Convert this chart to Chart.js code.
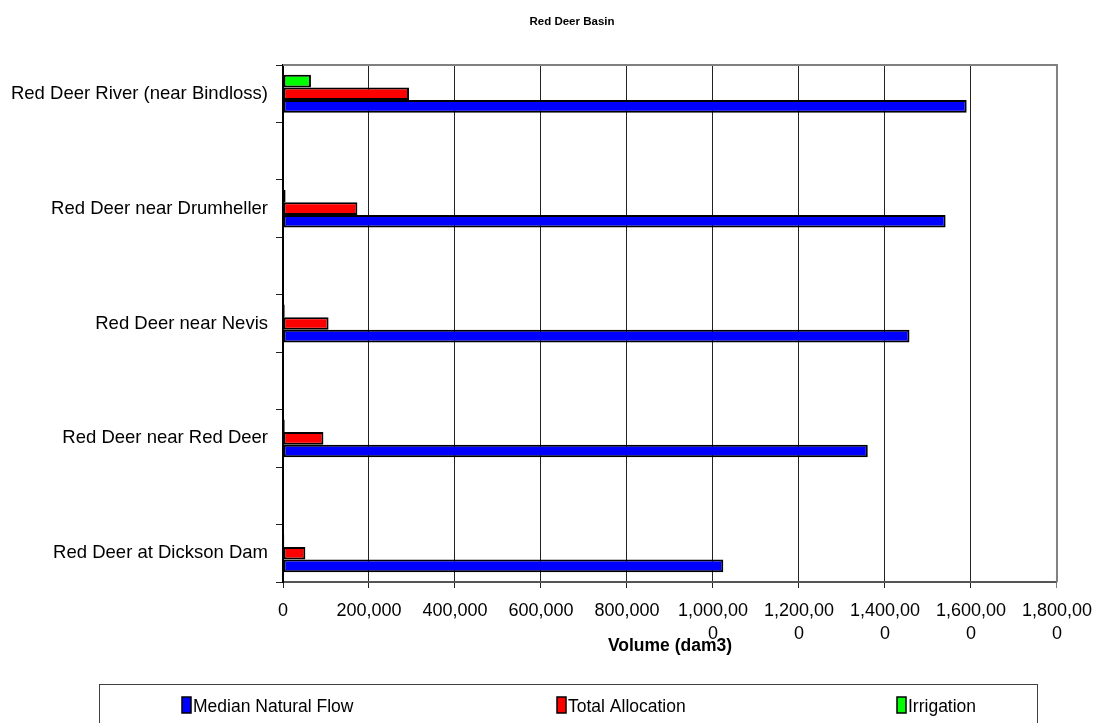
<!DOCTYPE html>
<html>
<head>
<meta charset="utf-8">
<title>Red Deer Basin</title>
<script src="https://cdn.jsdelivr.net/npm/chart.js@4/dist/chart.umd.min.js"></script>
<style>
  html, body { margin: 0; padding: 0; background: #ffffff; }
  #wrap { position: relative; width: 1103px; height: 723px; }
</style>
</head>
<body>
<div id="wrap"><canvas id="chart"></canvas></div>
<script>
// Gauging sites, listed top to bottom
const sites = [
  'Red Deer River (near Bindloss)',
  'Red Deer near Drumheller',
  'Red Deer near Nevis',
  'Red Deer near Red Deer',
  'Red Deer at Dickson Dam'
];

// Annual volumes, dam3
const medianNaturalFlow = [1590000, 1541000, 1457000, 1360000, 1024000];
const totalAllocation   = [293000, 173000, 106000, 94000, 52000];
const irrigation        = [65000, 6000, 4000, 4000, 3000];

// Value axis range
const axisMin = 0;
const axisMax = 1800000;
const axisStep = 200000;

const chartTitle = 'Red Deer Basin';

const FONT = "'Liberation Sans', Arial, Helvetica, sans-serif";
Chart.defaults.font.family = FONT;
Chart.defaults.color = '#000000';

// Each site sits in its own slot with an empty slot between sites
function spaced(arr, filler) {
  const out = [];
  arr.forEach((v, i) => { if (i) out.push(filler); out.push(v); });
  return out;
}

function withCommas(v) {
  return String(Math.round(v)).replace(/\B(?=(\d{3})+(?!\d))/g, ',');
}

// Chart heading and the top/right frame of the plot area
const plotFrame = {
  id: 'plotFrame',
  beforeDatasetsDraw(chart) {
    const { ctx, chartArea: a } = chart;
    ctx.save();
    ctx.strokeStyle = '#808080';
    ctx.lineWidth = 2;
    ctx.beginPath();
    ctx.moveTo(a.left, a.top);
    ctx.lineTo(a.right, a.top);
    ctx.lineTo(a.right, a.bottom);
    ctx.stroke();

    ctx.fillStyle = '#000000';
    ctx.font = 'bold 11.5px ' + FONT;
    ctx.textAlign = 'center';
    ctx.textBaseline = 'middle';
    ctx.fillText(chartTitle, 572, 22);
    ctx.restore();
  }
};

// Boxed legend along the bottom edge
const boxedLegend = {
  id: 'boxedLegend',
  afterDraw(chart) {
    const ctx = chart.ctx;
    ctx.save();
    ctx.strokeStyle = '#404040';
    ctx.lineWidth = 1;
    ctx.strokeRect(99.5, 684.5, 938, 60);

    const order = [2, 1, 0];           // Median Natural Flow, Total Allocation, Irrigation
    const xs = [182, 557, 897];
    ctx.font = '17.5px ' + FONT;
    ctx.textBaseline = 'middle';
    ctx.textAlign = 'left';
    order.forEach((di, k) => {
      const ds = chart.data.datasets[di];
      const x = xs[k];
      ctx.fillStyle = ds.backgroundColor;
      ctx.fillRect(x, 697, 9, 16);
      ctx.strokeStyle = '#000000';
      ctx.lineWidth = 1.5;
      ctx.strokeRect(x, 697, 9, 16);
      ctx.fillStyle = '#000000';
      ctx.fillText(ds.label, x + 11, 707);
    });
    ctx.restore();
  }
};

const barStyle = {
  borderColor: '#000000',
  borderWidth: 2,
  borderSkipped: false,
  categoryPercentage: 0.66,
  barPercentage: 1.0
};

new Chart(document.getElementById('chart'), {
  type: 'bar',
  data: {
    labels: spaced(sites, ''),
    datasets: [
      Object.assign({ label: 'Irrigation', data: spaced(irrigation, null), backgroundColor: '#00ff00' }, barStyle),
      Object.assign({ label: 'Total Allocation', data: spaced(totalAllocation, null), backgroundColor: '#ff0000' }, barStyle),
      Object.assign({ label: 'Median Natural Flow', data: spaced(medianNaturalFlow, null), backgroundColor: '#0000ff' }, barStyle)
    ]
  },
  options: {
    indexAxis: 'y',
    responsive: true,
    maintainAspectRatio: false,
    animation: false,
    layout: { padding: { left: 0, right: 45, top: 65, bottom: 66 } },
    plugins: {
      legend: { display: false },
      tooltip: { enabled: false },
      title: { display: false }
    },
    scales: {
      x: {
        type: 'linear',
        min: axisMin,
        max: axisMax,
        afterFit(scale) { scale.height = 75; },
        ticks: {
          stepSize: axisStep,
          autoSkip: false,
          maxRotation: 0,
          padding: 11,
          color: '#000000',
          font: { size: 18, lineHeight: 1.3 },
          callback(v) {
            const s = withCommas(v);
            return s.length > 8 ? [s.slice(0, 8), s.slice(8)] : s;
          }
        },
        grid: {
          drawOnChartArea: true,
          drawTicks: true,
          tickLength: 6,
          lineWidth: 1,
          color(ctx) {
            return ctx.tick && ctx.tick.value === axisMax ? '#808080' : '#222222';
          }
        },
        border: { display: true, color: '#555555', width: 2 },
        title: {
          display: true,
          text: 'Volume (dam3)',
          color: '#000000',
          font: { size: 17.5, weight: 'bold' },
          padding: { top: -8, bottom: 0 }
        }
      },
      y: {
        type: 'category',
        afterFit(scale) { scale.width = 283; },
        ticks: {
          padding: 8,
          color: '#000000',
          font: { size: 18.5 }
        },
        grid: {
          drawOnChartArea: false,
          drawTicks: true,
          tickLength: 7,
          color: '#222222',
          lineWidth: 1
        },
        border: { display: true, color: '#000000', width: 2 }
      }
    }
  },
  plugins: [plotFrame, boxedLegend]
});
</script>
</body>
</html>
